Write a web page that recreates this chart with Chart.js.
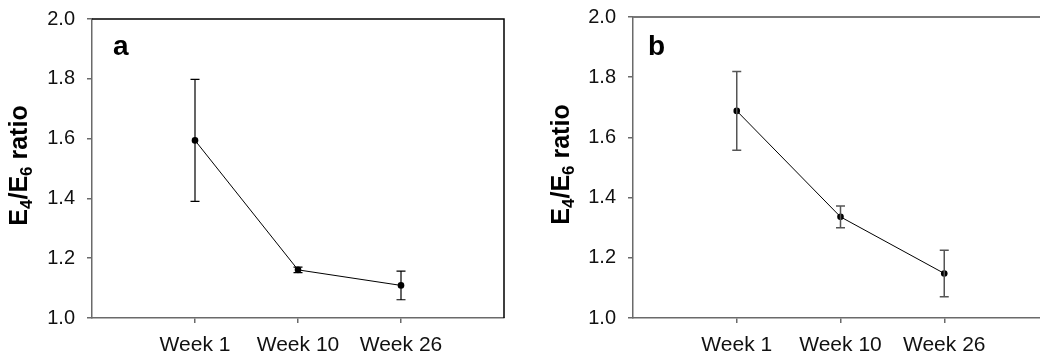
<!DOCTYPE html>
<html>
<head>
<meta charset="utf-8">
<script src="https://cdn.jsdelivr.net/npm/chart.js@4.4.0/dist/chart.umd.min.js"></script>
<style>
html, body { margin: 0; padding: 0; background: #fff; overflow: hidden; width: 1040px; height: 358px; }
#wrapA { position: absolute; left: 0; top: 0; width: 520px; height: 358px; }
#wrapB { position: absolute; left: 520px; top: 0; width: 560px; height: 358px; }
</style>
</head>
<body>
<div id="wrapA"><canvas id="chartA"></canvas></div>
<div id="wrapB"><canvas id="chartB"></canvas></div>
<script>
// values
const weeks = ['Week 1', 'Week 10', 'Week 26'];
const weekPos = [1, 2, 3];
const ratioA = [1.594, 1.161, 1.109];
const errA = [0.204, 0.009, 0.048];
const ratioB = [1.688, 1.336, 1.148];
const errB = [0.131, 0.036, 0.077];
const yTicks = [1.0, 1.2, 1.4, 1.6, 1.8, 2.0];
// y title "E4/E6 ratio", digits drawn as subscripts
const yTitleParts = [['E', false], ['4', true], ['/E', false], ['6', true], [' ratio', false]];

const FONT = "'Liberation Sans', Arial, sans-serif";
const TITLE_FONT = 'bold 25px ' + FONT;
const SUB_FONT = 'bold 17px ' + FONT;

// error bars, drawn through the chart's own scales
const errorBars = {
    id: 'errorBars',
    afterDatasetsDraw(chart, args, opts) {
        const ctx = chart.ctx;
        const xs = chart.scales.x, ys = chart.scales.y;
        ctx.save();
        ctx.strokeStyle = opts.color;
        ctx.lineWidth = opts.width;
        opts.values.forEach((v, i) => {
            const x = xs.getPixelForValue(weekPos[i]);
            const top = ys.getPixelForValue(v + opts.errors[i]);
            const bot = ys.getPixelForValue(v - opts.errors[i]);
            ctx.beginPath();
            ctx.moveTo(x, top); ctx.lineTo(x, bot);
            ctx.moveTo(x - 4.5, top); ctx.lineTo(x + 4.5, top);
            ctx.moveTo(x - 4.5, bot); ctx.lineTo(x + 4.5, bot);
            ctx.stroke();
        });
        ctx.restore();
    }
};

// top / right frame lines, panel letter and the y title with subscripts
const frame = {
    id: 'frame',
    afterDraw(chart, args, opts) {
        const ctx = chart.ctx;
        const a = chart.chartArea;
        ctx.save();
        ctx.strokeStyle = opts.color;
        ctx.lineWidth = opts.width;
        ctx.beginPath();
        ctx.moveTo(a.left, a.top);
        ctx.lineTo(a.right, a.top);
        ctx.lineTo(a.right, a.bottom);
        ctx.stroke();

        ctx.fillStyle = '#000';
        ctx.font = 'bold 28px ' + FONT;
        ctx.textBaseline = 'alphabetic';
        ctx.fillText(opts.letter, a.left + opts.dx, a.top + opts.dy);

        // y title
        let total = 0;
        yTitleParts.forEach(([t, sub]) => {
            ctx.font = sub ? SUB_FONT : TITLE_FONT;
            total += ctx.measureText(t).width;
        });
        ctx.translate(opts.titleX, (a.top + a.bottom) / 2 - 3);
        ctx.rotate(-Math.PI / 2);
        let x = -total / 2;
        yTitleParts.forEach(([t, sub]) => {
            ctx.font = sub ? SUB_FONT : TITLE_FONT;
            ctx.fillText(t, x, sub ? 5 : 0);
            x += ctx.measureText(t).width;
        });
        ctx.restore();
    }
};

function makeChart(id, values, errors, cfg) {
    const ctx = document.getElementById(id).getContext('2d');
    return new Chart(ctx, {
        type: 'scatter',
        data: {
            datasets: [{
                data: values.map((v, i) => ({ x: weekPos[i], y: v })),
                showLine: true,
                borderColor: '#000',
                borderWidth: 1,
                backgroundColor: '#000',
                pointRadius: 3.3,
                pointBorderWidth: 0
            }]
        },
        options: {
            responsive: true,
            maintainAspectRatio: false,
            animation: false,
            layout: { padding: { top: cfg.top, right: cfg.right, left: 0, bottom: 0 } },
            plugins: {
                legend: { display: false },
                tooltip: { enabled: false },
                errorBars: { values: values, errors: errors, color: cfg.errColor, width: cfg.errWidth },
                frame: {
                    color: cfg.frameColor, width: cfg.frameWidth,
                    letter: cfg.letter, dx: cfg.letterDx, dy: cfg.letterDy,
                    titleX: cfg.titleX
                }
            },
            scales: {
                x: {
                    type: 'linear',
                    min: 0,
                    max: 4,
                    afterBuildTicks: s => { s.ticks = weekPos.map(p => ({ value: p })); },
                    afterFit: s => { s.height = 40; s.paddingLeft = 0; s.paddingRight = 0; },
                    ticks: {
                        callback: v => weeks[weekPos.indexOf(v)] || '',
                        color: '#111',
                        font: { family: FONT, size: 21 },
                        padding: 10,
                        maxRotation: 0,
                        autoSkip: false
                    },
                    grid: { drawOnChartArea: false, drawTicks: true, tickLength: 5, color: '#6a6a6a', lineWidth: 1.5 },
                    border: { color: '#6a6a6a', width: 1.5 }
                },
                y: {
                    min: 1.0,
                    max: 2.0,
                    afterBuildTicks: s => { s.ticks = yTicks.map(v => ({ value: v })); },
                    afterFit: s => { s.width = cfg.yWidth; s.paddingTop = 0; s.paddingBottom = 0; },
                    ticks: {
                        callback: v => v.toFixed(1),
                        color: '#111',
                        font: { family: FONT, size: 20 },
                        padding: 12
                    },
                    grid: { drawOnChartArea: false, drawTicks: true, tickLength: 5, color: '#6a6a6a', lineWidth: 1.5 },
                    border: { color: '#6a6a6a', width: 1.5 }
                }
            }
        },
        plugins: [errorBars, frame]
    });
}

makeChart('chartA', ratioA, errA, {
    top: 19, right: 16, yWidth: 92, titleX: 27,
    errColor: '#000', errWidth: 1.2,
    frameColor: '#000', frameWidth: 1.5,
    letter: 'a', letterDx: 21, letterDy: 36
});

makeChart('chartB', ratioB, errB, {
    top: 17, right: 32, yWidth: 113, titleX: 49,
    errColor: '#555', errWidth: 1.5,
    frameColor: '#777', frameWidth: 2,
    letter: 'b', letterDx: 15, letterDy: 38
});
</script>
</body>
</html>
